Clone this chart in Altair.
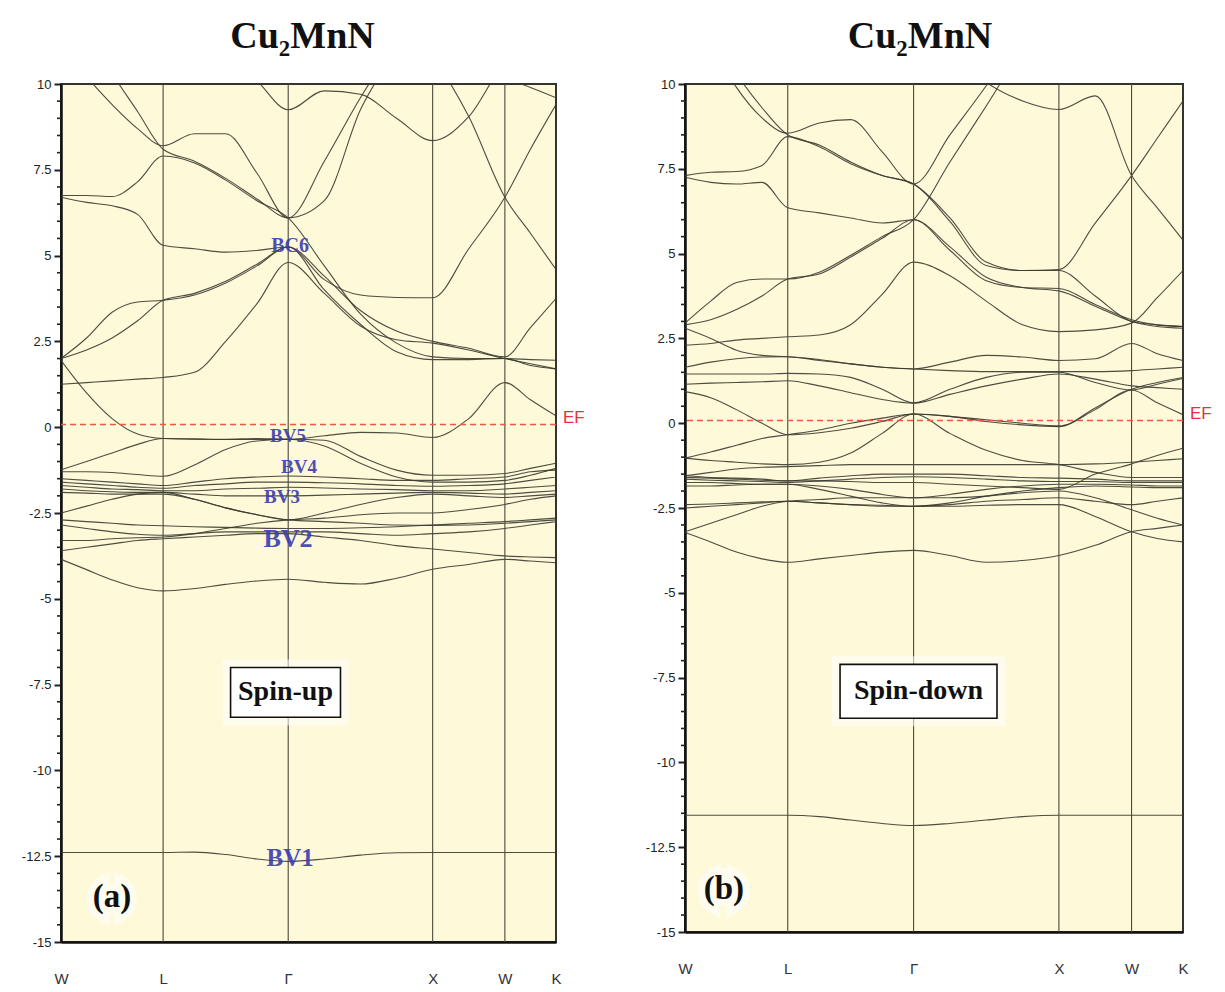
import altair as alt
import pandas as pd

# ---------------- k-path ----------------
k_grid = [0.0, 0.177, 0.354, 0.530, 0.707, 0.924, 1.140, 1.357, 1.573,
          1.823, 2.073, 2.323, 2.573, 2.823, 3.073, 3.250, 3.427]
sym_names = ["W", "L", "Γ", "X", "W", "K"]
sym_k = [0.0, 0.707, 1.573, 2.573, 3.073, 3.427]
inner_k = [0.707, 1.573, 2.573, 3.073]
y_major = [-15, -12.5, -10, -7.5, -5, -2.5, 0, 2.5, 5, 7.5, 10]

# ---------------- spin-up bands (eV) ----------------
LU1 = [11.0, 10.2, 9.4, 8.7, 8.2, 8.55, 8.55, 7.4, 6.1, 7.75, 9.6, 11.2, 12.5, 13, 13, 13, 13]
LU10 = [13.0, 11.5, 10.3, 9.2, 8.1, 7.75, 7.25, 6.65, 6.1, 6.6, 9.25, 11.0, 12.5, 13, 13, 13, 13]
LU2 = [6.75, 6.75, 6.72, 7.15, 7.9, 7.7, 7.2, 6.6, 6.1, 4.7, 3.3, 2.45, 2.05, 2.0, 2.0, 1.97, 1.95]
LU3 = [6.7, 6.55, 6.45, 6.2, 5.3, 5.2, 5.1, 5.15, 5.25, 4.3, 3.85, 3.78, 3.77, 5.2, 6.7, 8.1, 9.4]
LU4 = [2.0, 2.6, 3.35, 3.65, 3.7, 3.85, 4.2, 4.7, 5.25, 4.4, 3.4, 2.8, 2.5, 2.3, 2.05, 2.9, 3.75]
LU11 = [2.0, 2.25, 2.6, 3.1, 3.7, 3.9, 4.25, 4.75, 5.25, 4.0, 3.0, 2.2, 1.97, 1.97, 2.0, 1.8, 1.7]
LU5 = [1.25, 1.3, 1.35, 1.4, 1.45, 1.6, 2.5, 3.6, 4.8, 3.9, 2.95, 2.55, 2.45, 2.25, 2.0, 1.85, 1.7]
LU12 = [1.95, 1.0, 0.25, -0.2, -0.33, -0.35, -0.35, -0.33, -0.35, -0.25, -0.15, -0.17, -0.3, 0.25, 1.3, 0.8, 0.33]
LU6 = [12, 12, 12, 12, 12, 12, 11, 10.1, 9.25, 9.8, 9.7, 9.0, 8.35, 9.05, 10.6, 11, 11.5]
LU7 = [14, 14, 14, 14, 14, 14, 14, 14, 14, 13.5, 13, 12, 10.8, 9.05, 6.7, 5.65, 4.6]
LU8 = [14, 14, 14, 14, 14, 14, 14, 14, 14, 14, 14, 13, 12, 11, 10.2, 9.9, 9.6]
LL1 = [-1.24, -1.0, -0.75, -0.5, -0.33, -0.34, -0.36, -0.36, -0.35, -0.38, -0.85, -1.25, -1.4, -1.4, -1.35, -1.2, -1.05]
LL2 = [-1.3, -1.3, -1.32, -1.38, -1.43, -1.1, -0.65, -0.4, -0.35, -0.55, -1.05, -1.45, -1.6, -1.6, -1.55, -1.4, -1.2]
LL3 = [-1.5, -1.55, -1.6, -1.65, -1.7, -1.6, -1.5, -1.45, -1.42, -1.45, -1.5, -1.55, -1.55, -1.5, -1.45, -1.3, -1.25]
LL4 = [-1.6, -1.65, -1.7, -1.75, -1.78, -1.7, -1.65, -1.6, -1.6, -1.62, -1.65, -1.7, -1.72, -1.7, -1.65, -1.55, -1.45]
LL5 = [-1.7, -1.75, -1.8, -1.82, -1.85, -1.85, -1.8, -1.78, -1.75, -1.77, -1.8, -1.82, -1.85, -1.85, -1.8, -1.75, -1.7]
LL6 = [-1.8, -1.85, -1.88, -1.9, -1.9, -1.95, -2.0, -2.0, -2.0, -1.98, -1.95, -1.92, -1.9, -1.92, -1.95, -1.9, -1.85]
LL7 = [-1.9, -1.92, -1.95, -1.95, -1.95, -2.1, -2.35, -2.55, -2.7, -2.5, -2.25, -2.05, -1.95, -2.0, -2.05, -2.0, -1.95]
LL8 = [-2.5, -2.3, -2.1, -1.95, -1.9, -2.1, -2.35, -2.55, -2.7, -2.75, -2.8, -2.85, -2.86, -2.85, -2.8, -2.75, -2.7]
LL9 = [-2.7, -2.75, -2.8, -2.85, -2.87, -2.9, -2.92, -2.94, -2.95, -2.95, -2.93, -2.9, -2.85, -2.8, -2.75, -2.7, -2.65]
LL10 = [-2.85, -2.95, -3.05, -3.12, -3.15, -3.1, -3.05, -3.05, -3.05, -3.05, -3.1, -3.15, -3.1, -3.05, -2.95, -2.85, -2.75]
LL11 = [-3.3, -3.3, -3.25, -3.22, -3.2, -3.1, -2.95, -2.8, -2.7, -2.65, -2.55, -2.5, -2.5, -2.4, -2.25, -2.1, -2.0]
LL12 = [-3.6, -3.5, -3.4, -3.3, -3.25, -3.2, -3.15, -3.1, -3.1, -3.2, -3.3, -3.45, -3.55, -3.65, -3.75, -3.78, -3.8]
LL13 = [-3.85, -4.15, -4.45, -4.68, -4.77, -4.7, -4.58, -4.48, -4.43, -4.52, -4.57, -4.4, -4.14, -4.0, -3.85, -3.9, -3.95]
LL14 = [-12.39, -12.39, -12.39, -12.39, -12.39, -12.38, -12.45, -12.58, -12.65, -12.58, -12.47, -12.4, -12.39, -12.39, -12.39, -12.39, -12.39]

# ---------------- spin-down bands (eV) ----------------
R1 = [13, 11.2, 9.9, 9.0, 8.55, 8.85, 8.95, 8.0, 7.05, 8.5, 9.95, 11.5, 13, 13, 13, 13, 13]
R2 = [12, 11.5, 10.3, 9.3, 8.5, 8.2, 7.7, 7.3, 7.05, 5.95, 4.65, 4.5, 4.53, 5.9, 7.3, 8.4, 9.5]
R3 = [7.3, 7.4, 7.42, 7.6, 8.45, 8.15, 7.65, 7.3, 7.05, 6.05, 4.75, 4.5, 4.5, 3.75, 3.0, 2.9, 2.85]
R4 = [7.25, 7.1, 7.05, 7.1, 6.35, 6.2, 6.05, 5.9, 6.0, 5.1, 4.2, 4.0, 3.97, 3.5, 3.05, 2.9, 2.85]
R5 = [2.95, 3.6, 4.15, 4.25, 4.25, 4.45, 4.95, 5.5, 6.0, 7.7, 9.35, 11, 12, 12, 12, 12, 12]
R6 = [2.9, 3.05, 3.35, 3.75, 4.25, 4.4, 4.9, 5.45, 6.0, 5.2, 4.3, 4.0, 3.9, 3.45, 3.0, 2.85, 2.8]
R7 = [2.3, 2.35, 2.45, 2.5, 2.55, 2.6, 2.9, 3.8, 4.75, 4.35, 3.6, 2.9, 2.7, 2.75, 2.95, 3.7, 4.5]
R8 = [13, 13, 13, 13, 13, 13, 13, 13, 12, 11, 10.05, 9.5, 9.25, 9.65, 7.3, 6.35, 5.4]
R10 = [0.93, 0.75, 0.4, 0.0, -0.34, -0.28, -0.15, 0.05, 0.27, 0.2, 0.1, 0.0, -0.08, 0.4, 0.98, 0.6, 0.25]
R11 = [1.15, 1.18, 1.2, 1.22, 1.25, 1.1, 0.9, 0.7, 0.59, 0.85, 1.1, 1.3, 1.45, 1.3, 1.1, 1.05, 1.0]
R12 = [1.45, 1.45, 1.45, 1.45, 1.47, 1.45, 1.35, 1.0, 0.6, 1.0, 1.35, 1.5, 1.5, 1.2, 0.98, 1.15, 1.32]
R13 = [1.65, 1.8, 1.9, 1.95, 1.96, 1.85, 1.75, 1.65, 1.6, 1.8, 2.0, 1.95, 1.85, 1.9, 2.35, 2.05, 1.85]
R14 = [2.8, 2.5, 2.15, 2.0, 1.96, 1.88, 1.75, 1.65, 1.6, 1.55, 1.52, 1.52, 1.52, 1.52, 1.55, 1.6, 1.65]
R16 = [-1.03, -0.85, -0.65, -0.45, -0.34, -0.2, 0.0, 0.15, 0.27, -0.3, -0.8, -1.1, -1.22, -1.45, -1.6, -1.6, -1.6]
R17 = [-1.03, -1.1, -1.15, -1.2, -1.22, -1.15, -0.88, -0.3, 0.27, 0.2, 0.05, -0.05, -0.1, 0.45, 1.0, 1.2, 1.35]
R18 = [-1.55, -1.45, -1.35, -1.3, -1.28, -1.25, -1.22, -1.22, -1.22, -1.22, -1.22, -1.22, -1.22, -1.2, -1.15, -1.1, -1.05]
R19 = [-1.6, -1.62, -1.65, -1.68, -1.7, -1.7, -1.72, -1.75, -1.75, -1.8, -1.85, -1.9, -1.95, -1.5, -1.2, -0.95, -0.74]
R20 = [-1.55, -1.6, -1.62, -1.65, -1.7, -1.62, -1.55, -1.5, -1.5, -1.5, -1.55, -1.6, -1.62, -1.65, -1.7, -1.7, -1.7]
R21 = [-1.65, -1.68, -1.7, -1.72, -1.75, -1.7, -1.65, -1.6, -1.58, -1.6, -1.65, -1.7, -1.72, -1.72, -1.75, -1.75, -1.75]
R22 = [-1.75, -1.75, -1.78, -1.8, -1.8, -1.85, -1.95, -2.1, -2.2, -2.1, -1.95, -1.85, -1.8, -1.8, -1.82, -1.85, -1.85]
R23 = [-1.85, -1.85, -1.82, -1.8, -1.8, -1.95, -2.15, -2.35, -2.45, -2.35, -2.15, -2.0, -1.9, -1.85, -1.88, -1.9, -1.9]
R24 = [-2.4, -2.38, -2.35, -2.32, -2.3, -2.35, -2.4, -2.45, -2.45, -2.4, -2.3, -2.25, -2.2, -2.3, -2.4, -2.3, -2.2]
R25 = [-3.2, -2.95, -2.7, -2.45, -2.3, -2.25, -2.2, -2.2, -2.2, -2.2, -2.15, -2.05, -2.0, -2.2, -2.55, -2.8, -3.0]
R26 = [-3.22, -3.5, -3.8, -4.0, -4.1, -4.0, -3.9, -3.8, -3.75, -3.9, -4.1, -4.05, -3.9, -3.6, -3.2, -3.1, -3.0]
R27 = [-2.5, -2.45, -2.4, -2.35, -2.3, -2.35, -2.4, -2.42, -2.45, -2.45, -2.42, -2.4, -2.4, -2.75, -3.2, -3.4, -3.5]
R28 = [-11.56, -11.56, -11.56, -11.56, -11.56, -11.6, -11.7, -11.8, -11.86, -11.8, -11.7, -11.6, -11.56, -11.56, -11.56, -11.56, -11.56]

left_bands = [LU1, LU10, LU2, LU3, LU4, LU11, LU5, LU12, LU6, LU7, LU8,
              LL1, LL2, LL3, LL4, LL5, LL6, LL7, LL8, LL9, LL10, LL11, LL12, LL13, LL14]
right_bands = [R1, R2, R3, R4, R5, R6, R7, R8, R10, R11, R12, R13, R14, R16, R17,
               R18, R19, R20, R21, R22, R23, R24, R25, R26, R27, R28]

# ---------------- annotations ----------------
ef_level = [0.08]
left_lbl_text = ["BC6", "BV5", "BV4", "BV3", "BV2", "BV1"]
left_lbl_k = [1.586, 1.572, 1.648, 1.530, 1.572, 1.586]
left_lbl_E = [5.28, -0.26, -1.17, -2.04, -3.27, -12.54]
left_lbl_size = [20, 19, 19, 19, 26, 25]
spin_up_box = {"k": [1.174], "k2": [1.935], "E": [-7.0], "E2": [-8.45]}
spin_dn_box = {"k": [1.067], "k2": [2.147], "E": [-7.11], "E2": [-8.70]}
panel_titles = ["Cu₂MnN", "Cu₂MnN"]
spin_texts = ["Spin-up", "Spin-down"]
panel_tags = ["(a)", "(b)"]
tag_k = [0.353, 0.268]
tag_E = [-13.7, -13.72]

BG = "#FEF9D9"
LINE = "#3a3a30"


def bands_df(bands):
    rows = []
    for b, vals in enumerate(bands):
        for k, e in zip(k_grid, vals):
            rows.append({"k": k, "E": e, "band": b})
    return pd.DataFrame(rows)


label_expr = " : ".join(
    [f"datum.value < {sym_k[i] + 0.05} ? '{sym_names[i]}'" for i in range(len(sym_k) - 1)]
) + f" : '{sym_names[-1]}'"

minor_vals = [v / 2 for v in range(-30, 21) if (v / 2) not in y_major]


def panel(bands, width, height, box, spin_text, tag_idx, title_dx, extra_labels):
    xs = alt.Scale(domain=[0, 3.427], nice=False, zero=False)
    ys = alt.Scale(domain=[-15, 10], nice=False, zero=False)
    xax = alt.Axis(values=sym_k, labelExpr=label_expr, title=None, ticks=False, grid=False,
                   labelPadding=29, labelFontSize=15, labelFont="Liberation Sans",
                   labelColor="#333333", domainColor="#111111", domainWidth=2.5,
                   labelFlush=False, labelOverlap=False)
    yax = alt.Axis(values=y_major, title=None, grid=False, tickSize=7, tickWidth=2,
                   tickColor="#222222", labelFontSize=13, labelFont="Liberation Sans",
                   labelColor="#222222", labelPadding=3, domainColor="#111111",
                   domainWidth=2.5, labelOverlap=False, labelFlush=False,
                   labelExpr="(datum.value < 0 ? '-' : '') + format(abs(datum.value), '~g')")
    X = alt.X("k:Q", scale=xs, axis=xax)
    Y = alt.Y("E:Q", scale=ys, axis=yax)

    lines = alt.Chart(bands_df(bands)).mark_line(
        interpolate="monotone", clip=True, color=LINE, strokeWidth=1.1, opacity=0.9
    ).encode(x=X, y=Y, detail="band:N")

    vlines = alt.Chart(pd.DataFrame({"k": inner_k})).mark_rule(
        color="#4a4a3c", strokeWidth=1.1).encode(x=X)

    minor = alt.Chart(pd.DataFrame({"E": minor_vals})).mark_rule(
        color="#222222", strokeWidth=1.6).encode(
        y=Y, x=alt.value(-4), x2=alt.value(0))

    ef = alt.Chart(pd.DataFrame({"E": ef_level})).mark_rule(
        color="#ec5a45", strokeWidth=1.6, strokeDash=[6, 4]).encode(y=Y)
    ef_txt = alt.Chart(pd.DataFrame({"k": [3.427], "E": ef_level, "t": ["EF"]})).mark_text(
        align="left", baseline="middle", dx=7, dy=-6, fontSize=17, color="#e8303c",
        font="Liberation Sans").encode(x=X, y=Y, text="t:N")

    bdf = pd.DataFrame(box)
    glow = alt.Chart(bdf).mark_rect(fill="white", opacity=0.55, xOffset=-8, x2Offset=8,
                                    yOffset=-8, y2Offset=8).encode(
        x=X, x2="k2:Q", y=Y, y2="E2:Q")
    rect = alt.Chart(bdf).mark_rect(fill="white", stroke="#111111", strokeWidth=1.6).encode(
        x=X, x2="k2:Q", y=Y, y2="E2:Q")
    mid = pd.DataFrame({"k": [(box["k"][0] + box["k2"][0]) / 2],
                        "E": [(box["E"][0] + box["E2"][0]) / 2], "t": [spin_text]})
    spin = alt.Chart(mid).mark_text(fontSize=28, font="Liberation Serif", fontWeight="bold",
                                    color="#111111", baseline="middle").encode(
        x=X, y=Y, text="t:N")

    tdf = pd.DataFrame({"k": [tag_k[tag_idx]], "E": [tag_E[tag_idx]], "t": [panel_tags[tag_idx]]})
    tag_bg = alt.Chart(tdf).mark_text(fontSize=33, font="Liberation Serif", fontWeight="bold",
                                      color="white", stroke="white", strokeWidth=14,
                                      opacity=0.6, baseline="middle").encode(
        x=X, y=Y, text="t:N")
    tag = alt.Chart(tdf).mark_text(fontSize=33, font="Liberation Serif", fontWeight="bold",
                                   color="#111111", baseline="middle").encode(
        x=X, y=Y, text="t:N")

    layers = [lines, vlines, minor, ef, ef_txt, glow, rect, spin, tag_bg, tag]
    if extra_labels is not None:
        layers.append(extra_labels(X, Y))

    return alt.layer(*layers).properties(
        width=width, height=height,
        title=alt.TitleParams(panel_titles[tag_idx], fontSize=38, font="Liberation Serif",
                              fontWeight="bold", color="#111111", offset=22, dx=title_dx,
                              anchor="middle"),
    )


def left_labels(X, Y):
    ldf = pd.DataFrame({"k": left_lbl_k, "E": left_lbl_E, "t": left_lbl_text,
                        "s": left_lbl_size})
    return alt.Chart(ldf).mark_text(font="Liberation Serif", fontWeight="bold",
                                    color="#3c3cb4", baseline="middle", opacity=0.9).encode(
        x=X, y=Y, text="t:N", size=alt.Size("s:Q", scale=None, legend=None))


left = panel(left_bands, 495, 858, spin_up_box, spin_texts[0], 0, -6, left_labels)
right = panel(right_bands, 498, 848, spin_dn_box, spin_texts[1], 1, -14, None)

chart = alt.hconcat(left, right, spacing=58).configure_view(
    fill=BG, stroke="#333333", strokeWidth=2
).properties(padding={"left": 12, "top": 9, "right": 0, "bottom": 0})

chart.save("out.html", embed_options={"renderer": "svg", "actions": False})
